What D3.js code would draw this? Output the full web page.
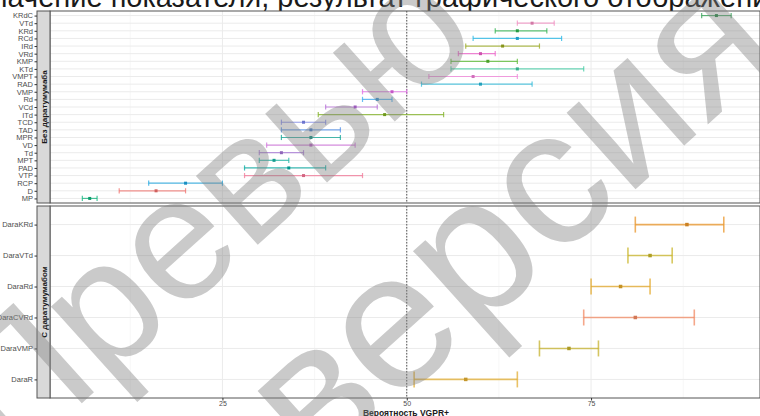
<!DOCTYPE html>
<html>
<head>
<meta charset="utf-8">
<script src="https://cdn.jsdelivr.net/npm/d3@7"></script>
<style>
  html, body { margin: 0; padding: 0; background: #fff; }
  svg { display: block; }
  text { font-family: "Liberation Sans", Arial, sans-serif; }
</style>
</head>
<body>
<svg id="chart" width="760" height="416"></svg>
<script>
// Regimens without daratumumab (top facet), listed top to bottom
const topLabels = ["KRdC","VTd","KRd","RCd","IRd","VRd","KMP","KTd","VMPT","RAD","VMP","Rd","VCd","ITd","TCD","TAD","MPR","VD","Td","MPT","PAD","VTP","RCP","D","MP"];
const topMid  = [92, 67, 65, 65, 63, 60, 61, 65, 59, 60, 48, 46, 43, 47, 36, 37, 37, 37, 33, 32, 34, 36, 20, 16, 7];
const topLow  = [90, 65, 62, 59, 58, 57, 56, 56, 53, 52, 44, 44, 39, 38, 33, 33, 33, 31, 30, 30, 28, 28, 15, 11, 6];
const topHigh = [94, 70, 69, 71, 68, 62, 65, 74, 65, 67, 50, 48, 46, 55, 39, 41, 41, 43, 36, 34, 39, 44, 25, 20, 8];
const topColors = ["#2a9d4e","#f28cc0","#2bb24c","#22b5e6","#9aaa1e","#ec5fc8","#55b82e","#3cc9a0","#f080d8","#28b8d8","#e264e6","#3aa8f0","#b46ad8","#7fb020","#7c86ee","#4f8ee8","#0fa493","#d070dc","#a474d4","#19b4a4","#00a9a0","#f27596","#1ea5e0","#f0706c","#10b47c"];

// Daratumumab-based regimens (bottom facet)
const botLabels = ["DaraKRd","DaraVTd","DaraRd","DaraCVRd","DaraVMP","DaraR"];
const botMid  = [88, 83, 79, 81, 72, 58];
const botLow  = [81, 80, 75, 74, 68, 51];
const botHigh = [93, 86, 83, 89, 76, 65];
const botColors = ["#e9952a","#c9b62a","#e3a829","#f28a63","#c6b22c","#e2ae33"];

const xTicks = [25, 50, 75];
const xMinor = [12.5, 37.5, 62.5, 87.5];
const refLine = 50;
const facetTitles = ["Без даратумумаба", "С даратумумабом"];
const xTitle = "Вероятность VGPR+";
const pageTitle = "Значение показателя, результат графического отображения";
const stamp = ["Превью", "версия"];

const svg = d3.select("#chart");
const panelL = 50, panelR = 760;
const stripL = 37;
const topPanel = { y0: 11, y1: 203 };
const botPanel = { y0: 206, y1: 398 };

const x = d3.scaleLinear().domain([0, 100]).range([38.1, 775.4]);
const yTop = d3.scalePoint().domain(topLabels).range([topPanel.y0, topPanel.y1]).padding(0.6);
const yBot = d3.scalePoint().domain(botLabels).range([botPanel.y0, botPanel.y1]).padding(0.6);

// partially visible heading above the plot
svg.append("text")
  .attr("x", -26).attr("y", 7)
  .attr("font-size", 29).attr("fill", "#1a1a1a")
  .text(pageTitle);

svg.append("defs").append("clipPath").attr("id", "clip")
  .append("rect").attr("x", panelL).attr("y", 0).attr("width", panelR - panelL).attr("height", 416);

function drawPanel(p, yScale, labels, mid, low, high, colors, opts) {
  const g = svg.append("g");
  g.append("rect").attr("x", panelL).attr("y", p.y0).attr("width", panelR - panelL).attr("height", p.y1 - p.y0)
    .attr("fill", "#fff");
  const grid = g.append("g").attr("clip-path", "url(#clip)");
  grid.selectAll("line.minor").data(xMinor).join("line")
    .attr("x1", d => x(d)).attr("x2", d => x(d)).attr("y1", p.y0).attr("y2", p.y1)
    .attr("stroke", "#f2f2f2").attr("stroke-width", 0.6);
  grid.selectAll("line.major").data(xTicks).join("line")
    .attr("x1", d => x(d)).attr("x2", d => x(d)).attr("y1", p.y0).attr("y2", p.y1)
    .attr("stroke", "#ebebeb").attr("stroke-width", 1);
  grid.selectAll("line.hgrid").data(labels).join("line")
    .attr("x1", panelL).attr("x2", panelR).attr("y1", d => yScale(d)).attr("y2", d => yScale(d))
    .attr("stroke", "#ebebeb").attr("stroke-width", 1);

  // reference line at 50%
  grid.append("line")
    .attr("x1", x(refLine)).attr("x2", x(refLine)).attr("y1", p.y0).attr("y2", p.y1)
    .attr("stroke", "#555").attr("stroke-width", 1).attr("stroke-dasharray", "1.5,1.5");

  const bars = grid.selectAll("g.bar").data(labels).join("g");
  bars.append("line")
    .attr("x1", (d, i) => x(low[i])).attr("x2", (d, i) => x(high[i]))
    .attr("y1", d => yScale(d)).attr("y2", d => yScale(d))
    .attr("stroke", (d, i) => colors[i]).attr("stroke-width", opts.lw).attr("stroke-opacity", 0.75);
  [low, high].forEach(arr => {
    bars.append("line")
      .attr("x1", (d, i) => x(arr[i])).attr("x2", (d, i) => x(arr[i]))
      .attr("y1", d => yScale(d) - opts.cap).attr("y2", d => yScale(d) + opts.cap)
      .attr("stroke", (d, i) => colors[i]).attr("stroke-width", opts.lw).attr("stroke-opacity", 0.75);
  });
  bars.append("rect")
    .attr("x", (d, i) => x(mid[i]) - opts.pt / 2).attr("y", d => yScale(d) - opts.pt / 2)
    .attr("width", opts.pt).attr("height", opts.pt)
    .attr("fill", (d, i) => d3.color(colors[i]).darker(0.4));

  g.append("rect").attr("x", panelL).attr("y", p.y0).attr("width", panelR - panelL).attr("height", p.y1 - p.y0)
    .attr("fill", "none").attr("stroke", "#555").attr("stroke-width", 1);

  // facet strip on the left
  g.append("rect").attr("x", stripL).attr("y", p.y0).attr("width", panelL - stripL).attr("height", p.y1 - p.y0)
    .attr("fill", "#d9d9d9").attr("stroke", "#555").attr("stroke-width", 1);
  g.append("text")
    .attr("transform", `translate(${(stripL + panelL) / 2 + 3},${(p.y0 + p.y1) / 2}) rotate(-90)`)
    .attr("text-anchor", "middle").attr("font-size", 8).attr("font-weight", "bold").attr("fill", "#1a1a1a")
    .text(opts.title);

  const ax = svg.append("g").attr("transform", `translate(${stripL},0)`)
    .call(d3.axisLeft(yScale).tickSize(2.5).tickPadding(1.5));
  ax.select(".domain").remove();
  ax.selectAll(".tick line").attr("stroke", "#333");
  ax.selectAll(".tick text").attr("font-size", 7.5).attr("fill", "#4d4d4d")
    .attr("font-family", "\"Liberation Sans\", Arial, sans-serif");
}

drawPanel(topPanel, yTop, topLabels, topMid, topLow, topHigh, topColors,
  { lw: 1.2, cap: 2.6, pt: 3, title: facetTitles[0] });
drawPanel(botPanel, yBot, botLabels, botMid, botLow, botHigh, botColors,
  { lw: 1.6, cap: 8, pt: 3.5, title: facetTitles[1] });

// x axis under the lower panel
const xa = svg.append("g").attr("transform", `translate(0,${botPanel.y1})`)
  .call(d3.axisBottom(x).tickValues(xTicks).tickSize(2.5).tickPadding(1));
xa.select(".domain").remove();
xa.selectAll(".tick line").attr("stroke", "#333");
xa.selectAll(".tick text").attr("font-size", 7).attr("fill", "#4d4d4d")
  .attr("font-family", "\"Liberation Sans\", Arial, sans-serif");

svg.append("text")
  .attr("x", 406).attr("y", 415.5).attr("text-anchor", "middle")
  .attr("font-size", 8.5).attr("font-weight", "bold").attr("fill", "#1a1a1a")
  .text(xTitle);

// translucent "preview" stamp across the figure
const wm = svg.append("g").attr("fill", "#808080").attr("fill-opacity", 0.42)
  .attr("text-anchor", "middle");
wm.append("text").attr("transform", "translate(206,209) rotate(-42)").attr("dy", "0.35em")
  .attr("font-size", 175).text(stamp[0]);
wm.append("text").attr("transform", "translate(505,215) rotate(-42)").attr("dy", "0.35em")
  .attr("font-size", 195).text(stamp[1]);
</script>
</body>
</html>
